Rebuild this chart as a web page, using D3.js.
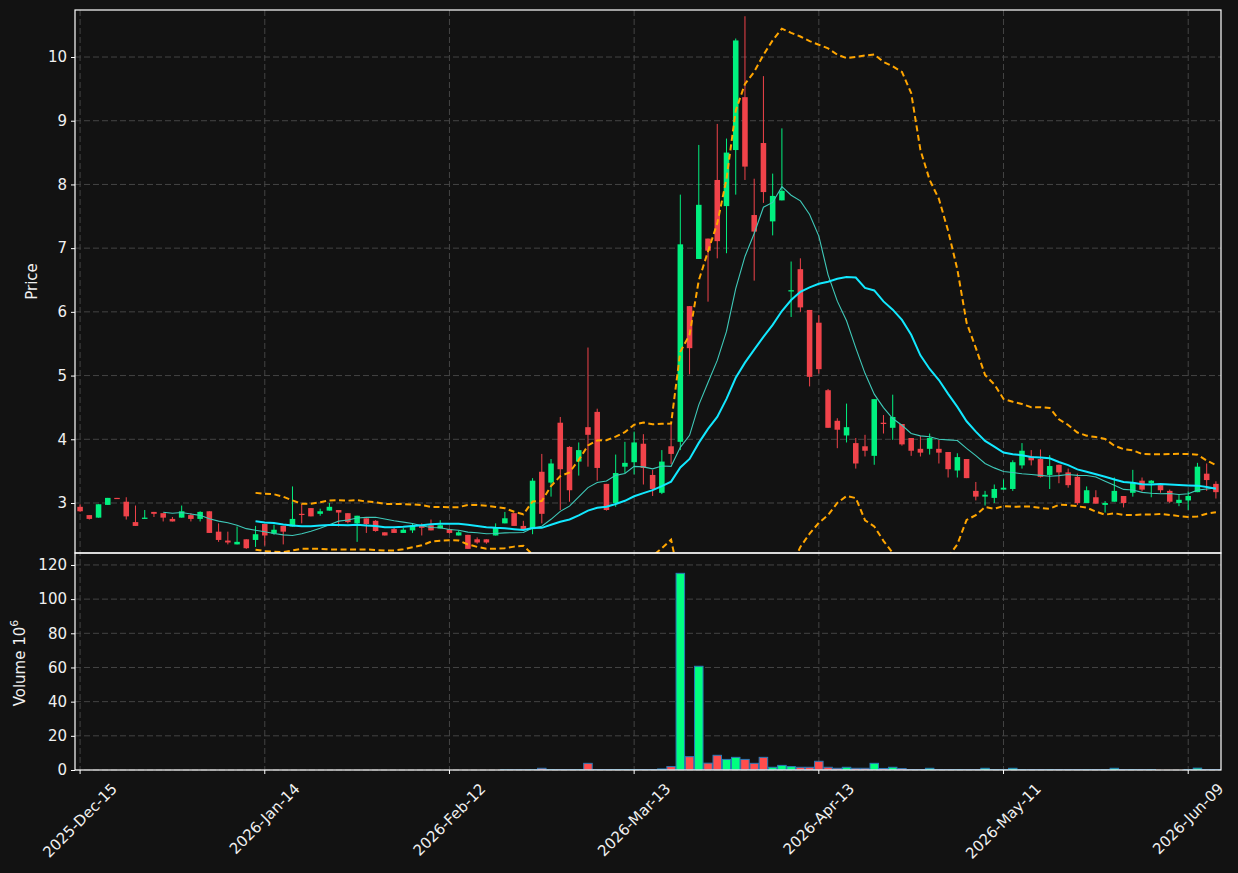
<!DOCTYPE html>
<html>
<head>
<meta charset="utf-8">
<script src="https://cdn.jsdelivr.net/npm/d3@7"></script>
<style>
  body { margin: 0; background: #121212; }
  svg { display: block; font-family: "DejaVu Sans", sans-serif; }
</style>
</head>
<body>
<div id="chart"></div>
<script>
// daily OHLC, one entry per trading day (index 0 = 2025-Dec-15)
var opens = [2.94,2.81,2.77,2.97,3.08,3.02,2.70,2.75,2.86,2.84,
  2.75,2.77,2.81,2.75,2.87,2.55,2.41,2.35,2.43,2.42,
  2.67,2.52,2.64,2.63,2.83,2.92,2.83,2.88,2.89,2.84,
  2.68,2.76,2.72,2.54,2.59,2.53,2.57,2.65,2.65,2.60,
  2.59,2.49,2.50,2.43,2.43,2.49,2.68,2.84,2.64,2.59,
  3.49,3.32,4.26,3.88,3.65,4.19,4.43,3.30,3.00,3.57,
  3.64,3.93,3.44,3.16,3.89,3.96,6.09,6.83,7.15,8.07,
  7.66,8.54,9.37,7.52,8.65,7.42,7.75,6.32,6.67,6.03,
  5.83,4.77,4.29,4.06,3.94,3.89,3.74,4.26,4.18,4.24,
  4.02,3.85,3.85,3.85,3.80,3.51,3.69,3.19,3.10,3.08,
  3.21,3.22,3.59,3.73,3.69,3.44,3.60,3.48,3.41,3.00,
  3.09,2.97,3.02,3.11,3.16,3.35,3.31,3.28,3.19,3.00,
  3.04,3.17,3.46,3.30];
var highs = [2.98,2.81,2.98,3.08,3.08,3.09,2.96,2.89,2.86,2.84,
  2.78,2.96,2.84,2.87,2.87,2.68,2.55,2.63,2.43,2.64,
  2.67,2.66,2.64,3.26,2.98,2.92,2.91,3.00,2.89,2.84,
  2.80,2.76,2.73,2.54,2.61,2.61,2.68,2.68,2.74,2.73,
  2.60,2.57,2.50,2.46,2.43,2.68,2.86,2.84,2.72,3.39,
  3.77,3.69,4.35,3.89,3.95,5.44,4.48,3.30,3.76,3.96,
  4.12,4.08,3.52,3.83,4.24,7.84,6.09,8.62,7.15,8.95,
  8.72,10.29,10.64,8.09,9.70,8.17,8.88,6.79,6.84,6.03,
  5.95,4.79,4.33,4.56,4.02,4.07,4.63,4.38,4.70,4.24,
  4.02,4.05,4.09,3.99,3.80,3.78,3.69,3.33,3.19,3.29,
  3.37,3.67,3.94,3.83,3.84,3.75,3.60,3.54,3.46,3.26,
  3.20,3.03,3.40,3.11,3.52,3.40,3.36,3.28,3.21,3.14,
  3.18,3.63,3.62,3.34];
var lows = [2.86,2.74,2.77,2.97,3.07,2.74,2.64,2.75,2.78,2.71,
  2.71,2.77,2.71,2.71,2.53,2.39,2.35,2.35,2.28,2.31,
  2.33,2.50,2.35,2.63,2.68,2.79,2.80,2.88,2.63,2.68,
  2.39,2.53,2.55,2.49,2.53,2.53,2.53,2.49,2.57,2.60,
  2.52,2.49,2.28,2.36,2.36,2.49,2.68,2.64,2.59,2.51,
  2.68,3.10,2.89,3.02,3.43,3.57,3.35,2.88,2.94,3.47,
  3.45,3.29,3.11,3.14,3.61,3.83,5.02,6.83,6.16,6.84,
  6.92,7.84,8.07,6.49,7.71,7.20,7.75,5.92,6.00,4.83,
  5.03,4.18,3.86,3.95,3.54,3.73,3.60,4.09,3.99,3.90,
  3.74,3.73,3.76,3.62,3.40,3.40,3.39,3.04,2.96,3.00,
  3.21,3.19,3.54,3.59,3.40,3.22,3.31,3.24,2.97,3.00,
  2.99,2.85,3.02,2.93,3.10,3.18,3.09,3.16,3.00,2.95,
  2.89,3.17,3.19,3.07];
var closes = [2.87,2.75,2.98,3.08,3.07,2.79,2.64,2.77,2.83,2.77,
  2.71,2.87,2.75,2.86,2.53,2.42,2.38,2.39,2.29,2.51,
  2.49,2.58,2.55,2.75,2.82,2.79,2.87,2.94,2.85,2.70,
  2.80,2.67,2.56,2.49,2.53,2.58,2.65,2.61,2.57,2.65,
  2.53,2.54,2.28,2.38,2.38,2.61,2.76,2.64,2.59,3.35,
  2.83,3.62,3.53,3.20,3.83,4.07,3.55,2.89,3.47,3.63,
  3.95,3.55,3.22,3.65,3.77,7.06,5.43,7.68,6.96,7.11,
  8.50,10.26,8.28,7.26,7.88,7.82,7.90,6.34,6.07,4.98,
  5.10,4.18,4.15,4.19,3.62,3.82,4.63,4.24,4.35,3.92,
  3.82,3.79,4.02,3.79,3.53,3.72,3.39,3.10,3.13,3.22,
  3.24,3.64,3.82,3.67,3.41,3.58,3.48,3.28,3.00,3.20,
  2.99,3.00,3.19,3.00,3.32,3.21,3.35,3.20,3.02,3.05,
  3.11,3.57,3.36,3.17];
// volume in millions
var volumes = [0,0,0,0,0,0,0,0,0,0,
  0,0,0,0,0,0,0,0,0,0,
  0,0,0,0,0,0,0,0,0,0,
  0,0,0,0,0,0,0,0,0,0,
  0,0,0,0,0,0,0.1,0.1,0.1,0.1,
  1.0,0.2,0.2,0.2,0.2,3.9,0.2,0.2,0.2,0.2,
  0.2,0.2,0.2,0.6,2.0,115.1,7.8,60.7,4.0,8.6,
  6.2,7.4,6.2,3.9,7.4,1.6,2.7,2.0,1.6,1.6,
  5.1,1.6,1.0,1.6,1.0,1.0,3.9,0.9,1.6,0.8,
  0.2,0.2,1.0,0.2,0.2,0.2,0.2,0.2,1.0,0.2,
  0.2,1.0,0.2,0.2,0.2,0.2,0.2,0.2,0.2,0.2,
  0.2,0.2,1.0,0.2,0.2,0.2,0.2,0,0,0,
  0.2,1.1,0.2,0.2];

var tickIdx = [0, 20, 40, 60, 80, 100, 120];
var tickLabels = ["2025-Dec-15", "2026-Jan-14", "2026-Feb-12", "2026-Mar-13",
                  "2026-Apr-13", "2026-May-11", "2026-Jun-09"];
var priceTicks = [3, 4, 5, 6, 7, 8, 9, 10];
var volTicks = [0, 20, 40, 60, 80, 100, 120];

var upColor = "#00f07f", downColor = "#f0434a";
var textColor = "#f0f0f0", gridColor = "#444";
var fs = "15px";

var W = 1238, H = 873;
var left = 75, right = 1221;
var pTop = 10, pBot = 553, vTop = 553, vBot = 770;

var svg = d3.select("#chart").append("svg")
    .attr("width", W)
    .attr("height", H);

svg.append("rect").attr("width", W).attr("height", H).attr("fill", "#121212");

var n = closes.length;
var x = d3.scaleLinear().domain([-0.55, n - 0.45]).range([left, right]);
var y = d3.scaleLinear().domain([2.215, 10.738]).range([pBot, pTop]);
var yv = d3.scaleLinear().domain([0, 127]).range([vBot, vTop]);

var defs = svg.append("defs");
defs.append("clipPath").attr("id", "clipP")
  .append("rect").attr("x", left).attr("y", pTop).attr("width", right - left).attr("height", pBot - pTop);
defs.append("clipPath").attr("id", "clipV")
  .append("rect").attr("x", left).attr("y", vTop).attr("width", right - left).attr("height", vBot - vTop);

//grid
var grid = svg.append("g")
    .attr("stroke", gridColor)
    .attr("stroke-width", 1)
    .attr("stroke-dasharray", "6,3");
tickIdx.forEach(function(t){
    grid.append("line").attr("x1", x(t)).attr("x2", x(t)).attr("y1", pTop).attr("y2", vBot);
});
priceTicks.forEach(function(t){
    grid.append("line").attr("x1", left).attr("x2", right).attr("y1", y(t)).attr("y2", y(t));
});
volTicks.forEach(function(t){
    grid.append("line").attr("x1", left).attr("x2", right).attr("y1", yv(t)).attr("y2", yv(t));
});

var pg = svg.append("g").attr("clip-path", "url(#clipP)");
var vg = svg.append("g").attr("clip-path", "url(#clipV)");

var idx = d3.range(n);
function col(i){ return closes[i] >= opens[i] ? upColor : downColor; }

//candles
var bodyW = 0.6 * (x(1) - x(0));
pg.selectAll(".wick").data(idx).enter().append("line")
    .attr("x1", function(i){ return x(i); })
    .attr("x2", function(i){ return x(i); })
    .attr("y1", function(i){ return y(highs[i]); })
    .attr("y2", function(i){ return y(lows[i]); })
    .attr("stroke", col)
    .attr("stroke-width", 1);
pg.selectAll(".body").data(idx).enter().append("rect")
    .attr("x", function(i){ return x(i) - bodyW / 2; })
    .attr("y", function(i){ return y(Math.max(opens[i], closes[i])); })
    .attr("width", bodyW)
    .attr("height", function(i){
        return Math.max(1.2, Math.abs(y(opens[i]) - y(closes[i])));
    })
    .attr("fill", col);

//moving averages + bollinger bands
function rolling(n0, fn){
    var out = [];
    for (var i = n0 - 1; i < n; i++) {
        var w = closes.slice(i - n0 + 1, i + 1);
        out.push([i, fn(w)]);
    }
    return out;
}
function popStd(w){
    var m = d3.mean(w);
    return Math.sqrt(d3.mean(w, function(v){ return (v - m) * (v - m); }));
}
var ma10 = rolling(10, d3.mean);
var ma20 = rolling(20, d3.mean);
var bbUp = rolling(20, function(w){ return d3.mean(w) + 2 * popStd(w); });
var bbLo = rolling(20, function(w){ return d3.mean(w) - 2 * popStd(w); });

var line = d3.line()
    .x(function(d){ return x(d[0]); })
    .y(function(d){ return y(d[1]); });

pg.append("path").attr("d", line(ma10))
    .attr("fill", "none").attr("stroke", "#3fc9b9").attr("stroke-width", 1.1);
pg.append("path").attr("d", line(ma20))
    .attr("fill", "none").attr("stroke", "#12e8ff").attr("stroke-width", 2);
[bbUp, bbLo].forEach(function(b){
    pg.append("path").attr("d", line(b))
        .attr("fill", "none").attr("stroke", "#ffa500")
        .attr("stroke-width", 2).attr("stroke-dasharray", "6,3.5");
});

//volume
var volW = 0.92 * (x(1) - x(0));
vg.selectAll("rect").data(idx.filter(function(i){ return volumes[i] > 0; }))
  .enter().append("rect")
    .attr("x", function(i){ return x(i) - volW / 2; })
    .attr("y", function(i){ return yv(volumes[i]); })
    .attr("width", volW)
    .attr("height", function(i){ return vBot - yv(volumes[i]); })
    .attr("fill", function(i){ return closes[i] >= opens[i] ? "#00ff80" : "#ff4d4d"; })
    .attr("stroke", "#2a7ab8")
    .attr("stroke-width", 1);

//frames
svg.append("rect").attr("x", left).attr("y", pTop).attr("width", right - left).attr("height", pBot - pTop)
    .attr("fill", "none").attr("stroke", "#fff").attr("stroke-width", 1.2);
svg.append("rect").attr("x", left).attr("y", vTop).attr("width", right - left).attr("height", vBot - vTop)
    .attr("fill", "none").attr("stroke", "#fff").attr("stroke-width", 1.2);

//y axes
var yAxis = d3.axisLeft(y).tickValues(priceTicks).tickSize(4).tickPadding(4);
var ga = svg.append("g").attr("transform", "translate(" + left + ",0)").call(yAxis);
var yvAxis = d3.axisLeft(yv).tickValues(volTicks).tickSize(4).tickPadding(4);
var gb = svg.append("g").attr("transform", "translate(" + left + ",0)").call(yvAxis);
[ga, gb].forEach(function(g){
    g.select(".domain").remove();
    g.selectAll("line").attr("stroke", "#fff");
    g.selectAll("text").attr("fill", textColor).attr("font-size", fs)
        .attr("font-family", "DejaVu Sans, sans-serif");
});

//x axis ticks + rotated labels
var gx = svg.append("g");
tickIdx.forEach(function(t, k){
    gx.append("line").attr("x1", x(t)).attr("x2", x(t)).attr("y1", vBot).attr("y2", vBot + 4)
        .attr("stroke", "#fff");
    var tx = gx.append("text")
        .attr("fill", textColor)
        .attr("font-size", fs)
        .attr("text-anchor", "middle")
        .attr("dominant-baseline", "central")
        .text(tickLabels[k]);
    var L = tx.node().getComputedTextLength();
    var half = (L + 15) * Math.SQRT1_2 / 2;
    tx.attr("transform", "translate(" + x(t) + "," + (vBot + 11 + half) + ") rotate(-45)");
});

//axis labels
svg.append("text")
    .attr("transform", "translate(32," + ((pTop + pBot) / 2) + ") rotate(-90)")
    .attr("text-anchor", "middle")
    .attr("dominant-baseline", "central")
    .attr("fill", textColor)
    .attr("font-size", fs)
    .text("Price");

var vl = svg.append("text")
    .attr("transform", "translate(20,663) rotate(-90)")
    .attr("text-anchor", "middle")
    .attr("dominant-baseline", "central")
    .attr("fill", textColor)
    .attr("font-size", fs);
vl.append("tspan").text("Volume  10");
vl.append("tspan").attr("font-size", "11px").attr("dy", "-6").text("6");
</script>
</body>
</html>
